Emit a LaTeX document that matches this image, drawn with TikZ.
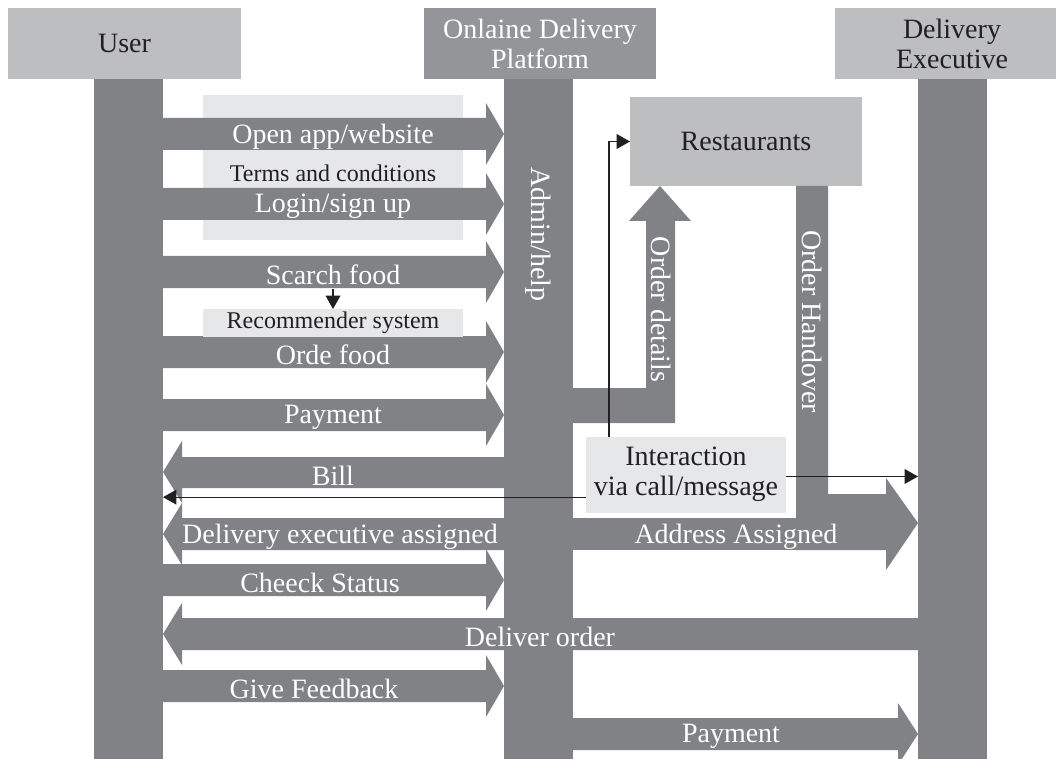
\documentclass[tikz,border=0pt]{standalone}
\usepackage{fontspec}
\setmainfont{Liberation Serif}
\usepackage{tikz}
\usetikzlibrary{arrows.meta,fit,positioning}
\definecolor{LaneGray}{HTML}{808285}
\definecolor{HeadDark}{HTML}{939598}
\definecolor{HeadLight}{HTML}{BCBEC0}
\definecolor{PaleGray}{HTML}{E6E7E8}
\definecolor{InkBlack}{HTML}{231F20}

\begin{document}
\begin{tikzpicture}[
  x=0.75pt, y=-0.75pt,
  lane/.style={fill=LaneGray, inner sep=0pt, outer sep=0pt},
  header/.style={inner sep=0pt, outer sep=0pt, align=center, minimum height=53.25pt,
    font=\fontsize{21}{22.5}\selectfont},
  panel/.style={fill=PaleGray, inner sep=0pt, outer sep=0pt, align=center, text=InkBlack},
  msg/.style={text=white, yshift=-2pt, font=\fontsize{21}{22.5}\selectfont},
  note/.style={text=InkBlack, font=\fontsize{18}{20}\selectfont},
  link/.style={-{Triangle[length=10pt, width=11pt]}, line width=1pt, draw=InkBlack}
]
\useasboundingbox (0,0) rectangle (1056,759);
\node[panel, fit={(203,95) (463,240)}] (terms) {};
\node[lane, fit={(94,79) (163,759)}] (userlane) {};
\node[lane, fit={(504,79) (573,759)}] (platlane) {};
\node[lane, fit={(918,79) (987,759)}] (execlane) {};
\node[header, fill=HeadLight, text=InkBlack, minimum width=174.75pt] (user) at (124.5,43.5) {User};
\node[header, fill=HeadDark, text=white, minimum width=174pt] (platform) at (540,43.5) {Onlaine Delivery\\Platform};
\node[header, fill=HeadLight, text=InkBlack, minimum width=175.5pt] (executive) at (952,43.5) {Delivery\\Executive};
\node[header, fill=HeadLight, text=InkBlack, minimum width=174pt, minimum height=66.75pt] (rest) at (746,141.5) {Restaurants};
% user to platform
\fill[lane] (163,118) -- (486,118) -- (486,103) -- (504,134) -- (486,165) -- (486,150) -- (163,150) -- cycle;
\fill[lane] (163,188) -- (486,188) -- (486,173) -- (504,204) -- (486,235) -- (486,220) -- (163,220) -- cycle;
\fill[lane] (163,256) -- (486,256) -- (486,241) -- (504,272) -- (486,303) -- (486,288) -- (163,288) -- cycle;
\fill[lane] (163,336) -- (486,336) -- (486,321) -- (504,352) -- (486,383) -- (486,368) -- (163,368) -- cycle;
\fill[lane] (163,399) -- (486,399) -- (486,384) -- (504,415) -- (486,446) -- (486,431) -- (163,431) -- cycle;
\fill[lane] (163,564) -- (486,564) -- (486,549) -- (504,580) -- (486,611) -- (486,596) -- (163,596) -- cycle;
\fill[lane] (163,670) -- (486,670) -- (486,655) -- (504,686) -- (486,717) -- (486,702) -- (163,702) -- cycle;
% back to user
\fill[lane] (504,457) -- (182,457) -- (182,441) -- (163,472) -- (182,503) -- (182,488) -- (504,488) -- cycle;
\fill[lane] (504,518) -- (182,518) -- (182,503) -- (163,534) -- (182,565) -- (182,550) -- (504,550) -- cycle;
\fill[lane] (918,618) -- (182,618) -- (182,603) -- (163,634) -- (182,665) -- (182,650) -- (918,650) -- cycle;
% platform, restaurants and executive
\fill[lane] (573,388) -- (646,388) -- (646,221) -- (629,221) -- (660,186) -- (691,221) -- (675,221) -- (675,423) -- (573,423) -- cycle;
\fill[lane] (796,186) -- (828,186) -- (828,494) -- (886,494) -- (886,478) -- (918,523) -- (886,570) -- (886,550) -- (796,550) -- cycle;
\fill[lane] (573,518) rectangle (886,550);
\fill[lane] (573,718) -- (898,718) -- (898,703) -- (918,734) -- (898,765) -- (898,750) -- (573,750) -- cycle;
\node[panel, note, minimum width=195pt, minimum height=21pt] (recom) at (333,323) {Recommender system};
\node[panel, font=\fontsize{21}{22.5}\selectfont, minimum width=150pt, minimum height=57pt] (inter) at (686,474.5) {Interaction\\via call/message};
\node[msg] (openapp) at (333,134) {Open app/website};
\node[note, yshift=-1.5pt] (termstext) at (333,171) {Terms and conditions};
\node[msg] (login) at (333,204) {Login/sign up};
\node[msg] (search) at (333,272) {Scarch food};
\node[msg] (order) at (333,352) {Orde food};
\node[msg] (pay) at (333,415) {Payment};
\node[msg] (bill) at (333,473) {Bill};
\node[msg] (assigned) at (340,534) {Delivery executive assigned};
\node[msg] (status) at (320,580) {Cheeck Status};
\node[msg] (deliver) at (540,634) {Deliver order};
\node[msg] (feedback) at (314,686) {Give Feedback};
\node[msg] (paydriver) at (731,734) {Payment};
\node[msg] (address) at (736,534) {Address Assigned};
\node[msg, rotate=-90] (admin) at (538,232) {Admin/help};
\node[msg, rotate=-90] (details) at (661,307) {Order details};
\node[msg, rotate=-90] (handover) at (812,319) {Order Handover};
\draw[link] (search.south) -- (recom.north);
\coordinate (tap) at (609,437);
\draw[link] (tap) |- (rest.west);
\coordinate (tobill) at ([yshift=-17pt]inter.west);
\draw[link] (tobill) -- (tobill -| userlane.east);
\coordinate (toexec) at ([yshift=-1.5pt]inter.east);
\draw[link] (toexec) -- (toexec -| execlane.west);
\end{tikzpicture}
\end{document}
